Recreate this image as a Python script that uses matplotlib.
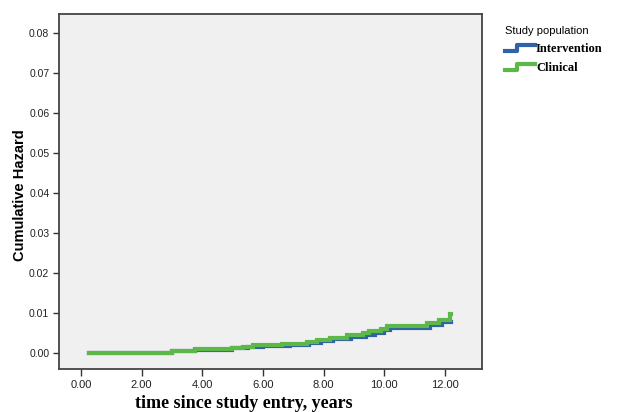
import numpy as np
import matplotlib
matplotlib.use("Agg")
import matplotlib.pyplot as plt
from matplotlib.lines import Line2D
from matplotlib.legend_handler import HandlerBase

# step times (years) and cumulative hazard
t_intervention = [0.27, 3.0, 3.76, 4.98, 5.5, 6.0, 6.9, 7.5, 7.9, 8.3, 8.9,
                  9.4, 9.7, 10.0, 10.2, 11.5, 11.9, 12.2]
h_intervention = [0.0, 0.0004, 0.0006, 0.0011, 0.0014, 0.0017, 0.0019, 0.0024,
                  0.0029, 0.0033, 0.0039, 0.0045, 0.0050, 0.0056, 0.0062,
                  0.0069, 0.0077, 0.0077]

t_clinical = [0.27, 3.0, 3.76, 4.98, 5.34, 5.67, 6.63, 7.45, 7.78, 8.2, 8.77,
              9.3, 9.5, 9.9, 10.1, 11.4, 11.8, 12.17, 12.2]
h_clinical = [0.0, 0.0005, 0.0009, 0.0012, 0.0015, 0.0018, 0.0022, 0.0027,
              0.0032, 0.0037, 0.0043, 0.0048, 0.0053, 0.0059, 0.0066, 0.0075,
              0.0082, 0.0097, 0.0097]

x_ticks = [0, 2, 4, 6, 8, 10, 12]
y_ticks = [0.00, 0.01, 0.02, 0.03, 0.04, 0.05, 0.06, 0.07, 0.08]

blue = "#2f62a8"
green = "#5cb848"


class StepHandler(HandlerBase):
    # legend icon shaped like a step
    def create_artists(self, legend, orig_handle, xdescent, ydescent,
                       width, height, fontsize, trans):
        xs = np.array([0, 0.4, 0.4, 1.0]) * width - xdescent
        ys = np.array([0.15, 0.15, 0.85, 0.85]) * height - ydescent
        ln = Line2D(xs, ys, color=orig_handle.get_color(),
                    lw=orig_handle.get_linewidth())
        ln.set_transform(trans)
        return [ln]


fig = plt.figure(figsize=(6.23, 4.12), dpi=100)
ax = fig.add_axes([0.0947, 0.1044, 0.679, 0.8616])
ax.set_facecolor("#f0f0f0")

l1, = ax.plot(t_intervention, h_intervention, drawstyle="steps-post",
              color=blue, lw=3, solid_joinstyle="miter")
l2, = ax.plot(t_clinical, h_clinical, drawstyle="steps-post",
              color=green, lw=3, solid_joinstyle="miter")

ax.set_xlim(-0.725, 13.22)
ax.set_ylim(-0.0041, 0.0847)
ax.set_xticks(x_ticks)
ax.set_xticklabels([f"{v:.2f}" for v in x_ticks], fontsize=8,
                   family="Liberation Sans", color="#222222")
ax.set_yticks(y_ticks)
ax.set_yticklabels([f"{v:.2f}" for v in y_ticks], fontsize=7.5,
                   family="Liberation Sans", color="#222222")
ax.tick_params(axis="x", length=5, width=1, color="#333333", pad=3)
ax.tick_params(axis="y", length=4, width=1, color="#333333", pad=3)
for s in ax.spines.values():
    s.set_color("#444444")
    s.set_linewidth(1.3)

ax.set_ylabel("Cumulative Hazard", fontsize=10.5, fontweight="bold",
              family="Liberation Sans")
ax.yaxis.set_label_coords(-0.075, 0.49)
ax.set_xlabel("time since study entry, years", fontsize=13, fontweight="bold",
              family="Liberation Serif", va="top")
ax.xaxis.set_label_coords(0.437, -0.072)

leg = fig.legend([l1, l2], ["Intervention", "Clinical"],
                 handler_map={Line2D: StepHandler()},
                 loc="upper left", bbox_to_anchor=(0.797, 0.957),
                 frameon=False, title="Study population",
                 prop={"family": "Liberation Serif", "weight": "bold",
                       "size": 9},
                 title_fontproperties={"family": "Liberation Sans",
                                       "size": 8},
                 handlelength=2.4, handletextpad=0.05, labelspacing=0.55,
                 borderpad=0.2)
leg._legend_box.align = "left"

fig.savefig("out.png", dpi=100)
